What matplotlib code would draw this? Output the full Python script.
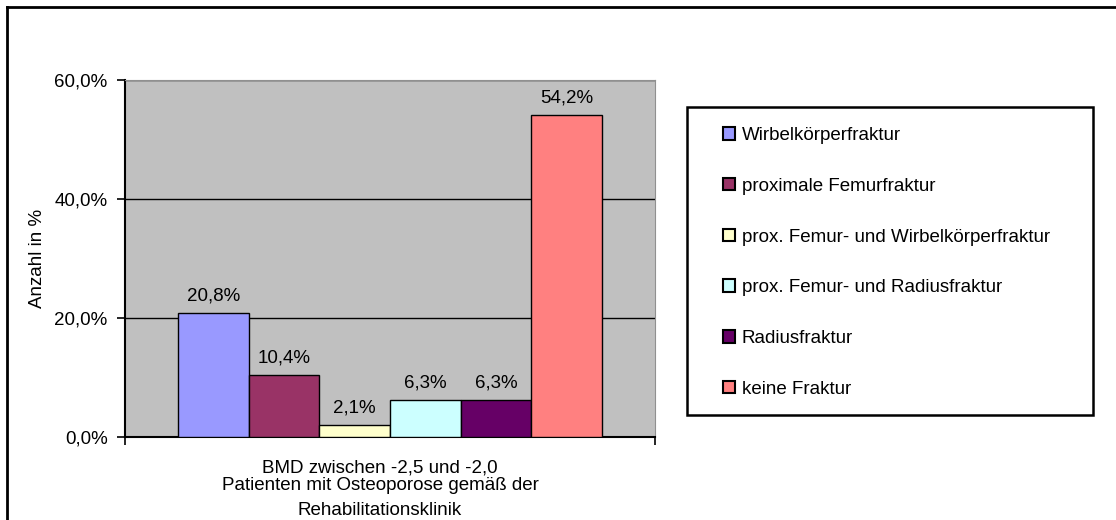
import numpy as np
import matplotlib.pyplot as plt
from matplotlib.lines import Line2D
from matplotlib.patches import Rectangle

plt.rcParams['font.family'] = ['Liberation Sans', 'DejaVu Sans']

categories = ['Wirbelkörperfraktur', 'proximale Femurfraktur',
              'prox. Femur- und Wirbelkörperfraktur',
              'prox. Femur- und Radiusfraktur', 'Radiusfraktur', 'keine Fraktur']
values = [20.8, 10.4, 2.1, 6.3, 6.3, 54.2]
colors = ['#9999FF', '#993366', '#FFFFCC', '#CCFFFF', '#660066', '#FF8080']
yticks = [0, 20, 40, 60]
group_label = 'BMD zwischen -2,5 und -2,0'
xlabel = 'Patienten mit Osteoporose gemäß der\nRehabilitationsklinik'

W, H = 1116, 520
fs = 13.5
fig = plt.figure(figsize=(W / 100, H / 100), dpi=100)
ax = fig.add_axes([125 / W, 1 - 437 / H, 530 / W, 357 / H])
ax.set_facecolor('#C0C0C0')

x = 1.25 + np.arange(len(values))
bars = ax.bar(x, values, width=1.0, color=colors, edgecolor='black', linewidth=1, zorder=3)
for xi, v in zip(x, values):
    ax.annotate(f'{v:.1f}%'.replace('.', ','), (xi, v), xytext=(0, 6),
                textcoords='offset points', ha='center', va='bottom', fontsize=fs)

ax.set_xlim(0, 7.5)
ax.set_ylim(0, 60)
ax.set_yticks(yticks)
ax.set_yticklabels([f'{t:.1f}%'.replace('.', ',') for t in yticks], fontsize=fs)
ax.yaxis.grid(True, color='black', linewidth=1, zorder=1)
ax.set_xticks([0, 7.5])
ax.set_xticklabels(['', ''])
ax.tick_params(axis='both', direction='out', length=6, width=1.2, pad=6.5)
for s in ['top', 'right']:
    ax.spines[s].set_color('#909090')
for s in ['left', 'bottom']:
    ax.spines[s].set_color('black')
    ax.spines[s].set_linewidth(1.5)
ax.set_ylabel('Anzahl in %', fontsize=fs, labelpad=6)

fig.text(380 / W, 1 - 468 / H, group_label, ha='center', va='center', fontsize=fs)
fig.text(380 / W, 1 - 498 / H, xlabel, ha='center', va='center', fontsize=fs,
         linespacing=1.55)

# legend frame and entries
fig.patches.append(Rectangle((687 / W, 1 - 415 / H), 406 / W, 308 / H,
                             transform=fig.transFigure, facecolor='white',
                             edgecolor='black', linewidth=1.8, zorder=0))
handles = [Rectangle((0, 0), 1, 1, facecolor=c, edgecolor='black', linewidth=1.5)
           for c in colors]
fig.legend(handles, categories, loc='upper left', frameon=False,
           bbox_to_anchor=(723 / W, 1 - 127 / H), borderpad=0, borderaxespad=0,
           fontsize=fs, labelspacing=1.8, handlelength=0.64, handleheight=0.64,
           handletextpad=0.37)

# outer chart frame
fig.lines.append(Line2D([7 / W, 7 / W], [0, 1 - 7 / H], transform=fig.transFigure,
                        color='black', linewidth=2))
fig.lines.append(Line2D([7 / W, 1], [1 - 7 / H, 1 - 7 / H], transform=fig.transFigure,
                        color='black', linewidth=2))

fig.savefig('out.png', dpi=100)
